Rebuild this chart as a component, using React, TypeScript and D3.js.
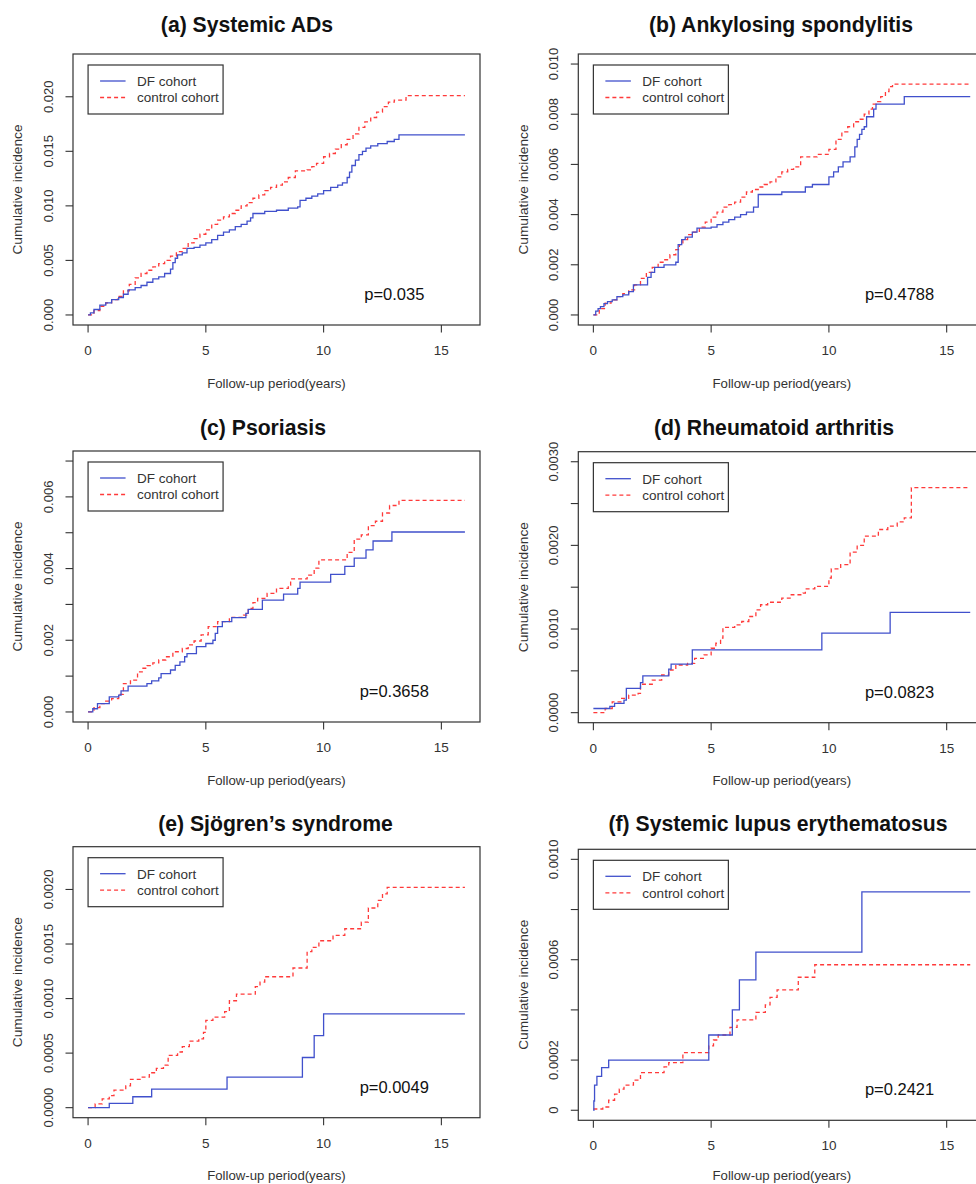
import React from "react";
import * as d3 from "d3";

// ---------- data (years, cumulative incidence) ----------
const aDFTime = [0, 0.1, 0.25, 0.5, 0.75, 1.0, 1.3, 1.5, 1.7, 2.0, 2.25, 2.5, 2.75, 3.0, 3.25, 3.5, 3.6, 3.7, 3.8, 4.0, 4.2, 4.5, 4.75, 5.0, 5.25, 5.5, 5.75, 6.0, 6.25, 6.5, 6.75, 6.9, 7.0, 7.5, 8.0, 8.5, 8.9, 9.0, 9.25, 9.5, 9.75, 10.0, 10.3, 10.6, 10.8, 11.0, 11.1, 11.2, 11.35, 11.5, 11.65, 11.8, 12.0, 12.3, 12.7, 13.0, 13.2, 16];
const aDFCI = [0, 0.0002, 0.0005, 0.0009, 0.0011, 0.0014, 0.0016, 0.0019, 0.0023, 0.0025, 0.0027, 0.003, 0.0033, 0.0035, 0.0038, 0.0042, 0.0048, 0.0052, 0.0055, 0.0057, 0.0061, 0.0062, 0.0064, 0.0066, 0.0069, 0.0073, 0.0076, 0.0078, 0.0081, 0.0083, 0.0086, 0.0089, 0.0093, 0.0095, 0.0096, 0.0098, 0.0099, 0.0105, 0.0107, 0.0109, 0.0111, 0.0114, 0.0117, 0.0119, 0.0121, 0.0126, 0.0131, 0.0137, 0.0142, 0.0147, 0.015, 0.0153, 0.0155, 0.0157, 0.0159, 0.0161, 0.0165, 0.0165];
const aCtrlTime = [0, 0.25, 0.5, 0.75, 1.0, 1.25, 1.5, 1.75, 2.0, 2.25, 2.5, 2.75, 3.0, 3.25, 3.5, 3.75, 4.0, 4.25, 4.5, 4.75, 5.0, 5.25, 5.5, 5.75, 6.0, 6.25, 6.5, 6.75, 7.0, 7.25, 7.5, 7.75, 8.0, 8.25, 8.5, 8.8, 9.3, 9.5, 9.7, 10.0, 10.25, 10.5, 10.75, 11.0, 11.25, 11.5, 11.75, 12.0, 12.25, 12.5, 12.75, 13.0, 13.5, 16];
const aCtrlCI = [0, 0.0004, 0.0008, 0.0011, 0.0014, 0.0017, 0.0022, 0.0028, 0.0034, 0.0038, 0.0041, 0.0044, 0.0047, 0.005, 0.0054, 0.0058, 0.0061, 0.0066, 0.007, 0.0074, 0.0078, 0.0083, 0.0087, 0.009, 0.0093, 0.0096, 0.01, 0.0103, 0.0107, 0.011, 0.0114, 0.0117, 0.0119, 0.0122, 0.0126, 0.0132, 0.0133, 0.0136, 0.0139, 0.0145, 0.0148, 0.0152, 0.0156, 0.0161, 0.0166, 0.0172, 0.0177, 0.0181, 0.0186, 0.0191, 0.0195, 0.0197, 0.0201, 0.0201];

const bDFTime = [0, 0.1, 0.2, 0.3, 0.45, 0.6, 0.8, 1.0, 1.25, 1.5, 1.7, 2.3, 2.45, 2.6, 3.0, 3.5, 3.6, 3.75, 3.9, 4.2, 4.4, 5.0, 5.25, 5.5, 5.75, 6.0, 6.25, 6.5, 6.8, 7.0, 8.0, 9.0, 9.3, 10.0, 10.2, 10.4, 10.6, 10.9, 11.1, 11.2, 11.3, 11.4, 11.5, 11.6, 11.9, 12.0, 13.2, 16];
const bDFCI = [0, 0.00015, 0.00025, 0.00033, 0.00045, 0.00053, 0.0006, 0.00073, 0.0008, 0.00093, 0.0012, 0.0015, 0.0017, 0.0019, 0.002, 0.0021, 0.0028, 0.003, 0.0031, 0.0033, 0.00346, 0.0035, 0.0036, 0.0037, 0.0038, 0.0039, 0.004, 0.0041, 0.0043, 0.0048, 0.0049, 0.0051, 0.0052, 0.0055, 0.0057, 0.0059, 0.0061, 0.0063, 0.0067, 0.007, 0.0072, 0.0074, 0.0075, 0.0079, 0.0082, 0.0084, 0.0087, 0.0087];
const bCtrlTime = [0, 0.25, 0.5, 0.75, 1.0, 1.25, 1.5, 1.75, 2.0, 2.25, 2.5, 2.75, 3.0, 3.25, 3.5, 3.65, 3.8, 4.0, 4.2, 4.5, 4.75, 5.0, 5.25, 5.5, 5.75, 6.0, 6.25, 6.5, 6.75, 7.0, 7.25, 7.5, 7.75, 8.0, 8.25, 8.5, 8.8, 9.5, 10.0, 10.3, 10.55, 10.8, 11.05, 11.3, 11.5, 11.7, 11.85, 12.0, 12.2, 12.4, 12.55, 12.7, 16];
const bCtrlCI = [0, 0.00025, 0.00047, 0.0006, 0.00073, 0.00085, 0.001, 0.0012, 0.00146, 0.0017, 0.0019, 0.0021, 0.0022, 0.0024, 0.0026, 0.0028, 0.003, 0.0032, 0.0033, 0.0035, 0.0037, 0.0039, 0.0041, 0.0043, 0.0044, 0.0045, 0.0047, 0.0049, 0.005, 0.0051, 0.0052, 0.0053, 0.0055, 0.0057, 0.0058, 0.0059, 0.0063, 0.0064, 0.0066, 0.007, 0.0073, 0.0075, 0.0077, 0.0078, 0.008, 0.0082, 0.0084, 0.0085, 0.0087, 0.0089, 0.0091, 0.0092, 0.0092];

const cDFTime = [0, 0.2, 0.4, 0.9, 1.3, 1.4, 1.7, 2.5, 2.7, 3.0, 3.1, 3.5, 3.7, 3.9, 4.1, 4.2, 4.6, 5.0, 5.3, 5.4, 5.5, 5.7, 6.1, 6.7, 6.8, 7.4, 8.3, 8.9, 9.0, 10.3, 10.9, 11.3, 11.8, 12.1, 12.9, 16];
const cDFCI = [0, 0.00009, 0.00023, 0.00042, 0.00047, 0.00059, 0.00072, 0.00079, 0.00087, 0.00095, 0.00107, 0.00117, 0.0013, 0.0014, 0.00154, 0.00163, 0.00182, 0.00191, 0.002, 0.00219, 0.00238, 0.00252, 0.00263, 0.00275, 0.00286, 0.00312, 0.00329, 0.00345, 0.00362, 0.00384, 0.00406, 0.00429, 0.00452, 0.00477, 0.00502, 0.00502];
const cCtrlTime = [0, 0.25, 0.5, 0.75, 1.0, 1.3, 1.5, 1.8, 2.1, 2.3, 2.5, 2.75, 3.0, 3.3, 3.6, 4.0, 4.25, 4.5, 4.8, 5.1, 5.5, 6.0, 6.6, 6.8, 7.0, 7.2, 7.6, 8.0, 8.5, 8.6, 9.3, 9.6, 9.8, 11.0, 11.3, 11.6, 11.9, 12.2, 12.5, 12.8, 13.2, 16];
const cCtrlCI = [0, 0.00012, 0.00023, 0.0003, 0.00037, 0.00049, 0.00079, 0.00089, 0.00112, 0.00122, 0.00129, 0.00137, 0.00145, 0.00154, 0.00168, 0.00177, 0.00187, 0.00198, 0.00215, 0.00238, 0.00252, 0.00264, 0.0027, 0.00289, 0.00305, 0.00317, 0.00331, 0.00345, 0.00354, 0.00371, 0.00382, 0.00401, 0.00424, 0.00445, 0.00482, 0.00494, 0.0052, 0.00532, 0.00555, 0.00576, 0.0059, 0.0059];

const dDFTime = [0, 0.7, 0.9, 1.3, 1.4, 2.0, 2.1, 3.2, 3.3, 4.2, 9.7, 12.6, 16];
const dDFCI = [0.00005, 0.000076, 0.00011, 0.00015, 0.00029, 0.00036, 0.00044, 0.00052, 0.00058, 0.00075, 0.00095, 0.0012, 0.0012];
const dCtrlTime = [0, 0.5, 0.8, 1.2, 1.5, 1.9, 2.0, 2.5, 2.9, 3.2, 3.5, 4.0, 4.3, 4.7, 5.0, 5.2, 5.4, 5.5, 6.0, 6.3, 6.6, 6.9, 7.1, 7.4, 8.0, 8.4, 8.9, 9.0, 9.4, 10.0, 10.1, 10.5, 10.9, 11.2, 11.5, 12.1, 12.5, 12.9, 13.2, 13.5, 16];
const dCtrlCI = [0, 0.00005, 0.00013, 0.00017, 0.00021, 0.00023, 0.00034, 0.00039, 0.00045, 0.00051, 0.00057, 0.00059, 0.00065, 0.00069, 0.00077, 0.00083, 0.00089, 0.00102, 0.00105, 0.00109, 0.00115, 0.00123, 0.00129, 0.00132, 0.00137, 0.00141, 0.00143, 0.00148, 0.00151, 0.00161, 0.00172, 0.00177, 0.00192, 0.002, 0.00211, 0.00219, 0.00223, 0.00228, 0.00233, 0.00269, 0.00269];

const eDFTime = [0, 0.9, 1.9, 2.7, 5.9, 9.1, 9.6, 10.0, 16];
const eDFCI = [0, 0.00004, 0.0001, 0.00017, 0.00028, 0.00046, 0.00066, 0.00086, 0.00086];
const eCtrlTime = [0, 0.3, 0.6, 0.9, 1.1, 1.6, 1.8, 2.3, 2.6, 2.9, 3.2, 3.4, 3.8, 4.0, 4.3, 4.7, 4.9, 5.0, 5.3, 5.8, 6.0, 6.3, 7.1, 7.3, 7.5, 8.7, 9.3, 9.5, 9.8, 10.4, 10.9, 11.6, 11.9, 12.3, 12.5, 12.7, 16];
const eCtrlCI = [0, 0.000034, 0.00008, 0.00011, 0.00016, 0.0002, 0.00026, 0.00028, 0.00032, 0.00036, 0.00039, 0.00048, 0.00051, 0.00056, 0.00061, 0.00063, 0.00069, 0.0008, 0.00083, 0.00088, 0.00098, 0.00104, 0.00111, 0.00115, 0.0012, 0.00128, 0.00143, 0.00147, 0.00153, 0.00158, 0.00164, 0.0017, 0.00183, 0.0019, 0.00196, 0.00202, 0.00202];

const fDFTime = [0, 0.02, 0.05, 0.15, 0.35, 0.65, 4.9, 5.9, 6.2, 6.9, 11.4, 16];
const fDFCI = [0, 0.000037, 0.0001, 0.000135, 0.00017, 0.0002, 0.0003, 0.0004, 0.00052, 0.00063, 0.00087, 0.00087];
const fCtrlTime = [0, 0.4, 0.65, 0.9, 1.1, 1.3, 1.7, 2.0, 3.0, 3.2, 3.8, 4.9, 5.1, 5.3, 5.8, 6.1, 6.9, 7.3, 7.5, 7.8, 8.7, 9.4, 16];
const fCtrlCI = [0.000005, 0.000013, 0.00004, 0.000064, 0.000084, 0.0001, 0.00012, 0.00015, 0.000173, 0.00019, 0.00023, 0.000257, 0.00028, 0.0003, 0.00033, 0.00036, 0.00039, 0.00042, 0.00045, 0.00048, 0.00053, 0.00058, 0.00058];

// ---------- titles, axis ticks, p-values ----------
const panelTitles = ["(a) Systemic ADs", "(b) Ankylosing spondylitis", "(c) Psoriasis", "(d) Rheumatoid arthritis", "(e) Sjögren’s syndrome", "(f) Systemic lupus erythematosus"];
const pValues = ["p=0.035", "p=0.4788", "p=0.3658", "p=0.0823", "p=0.0049", "p=0.2421"];
const yMax = [0.023, 0.010, 0.007, 0.003, 0.0023, 0.001];
const aYTicks = [0, 0.005, 0.01, 0.015, 0.02];
const aYLabels = ["0.000", "0.005", "0.010", "0.015", "0.020"];
const bYTicks = [0, 0.002, 0.004, 0.006, 0.008, 0.01];
const bYLabels = ["0.000", "0.002", "0.004", "0.006", "0.008", "0.010"];
const cYTicks = [0, 0.001, 0.002, 0.003, 0.004, 0.005, 0.006, 0.007];
const cYLabels = ["0.000", "", "0.002", "", "0.004", "", "0.006", ""];
const dYTicks = [0, 0.0005, 0.001, 0.0015, 0.002, 0.0025, 0.003];
const dYLabels = ["0.0000", "", "0.0010", "", "0.0020", "", "0.0030"];
const eYTicks = [0, 0.0005, 0.001, 0.0015, 0.002];
const eYLabels = ["0.0000", "0.0005", "0.0010", "0.0015", "0.0020"];
const fYTicks = [0, 0.0002, 0.0004, 0.0006, 0.0008, 0.001];
const fYLabels = ["0", "0.0002", "", "0.0006", "", "0.0010"];
const xTicks = [0, 5, 10, 15];
const xTickLabels = ["0", "5", "10", "15"];
const seriesNames = ["DF cohort", "control cohort"];
const xLabel = "Follow-up period(years)";
const yLabel = "Cumulative incidence";

const panelsData = [
  { df: [aDFTime, aDFCI], ctrl: [aCtrlTime, aCtrlCI], yt: aYTicks, yl: aYLabels },
  { df: [bDFTime, bDFCI], ctrl: [bCtrlTime, bCtrlCI], yt: bYTicks, yl: bYLabels },
  { df: [cDFTime, cDFCI], ctrl: [cCtrlTime, cCtrlCI], yt: cYTicks, yl: cYLabels },
  { df: [dDFTime, dDFCI], ctrl: [dCtrlTime, dCtrlCI], yt: dYTicks, yl: dYLabels },
  { df: [eDFTime, eDFCI], ctrl: [eCtrlTime, eCtrlCI], yt: eYTicks, yl: eYLabels },
  { df: [fDFTime, fDFCI], ctrl: [fCtrlTime, fCtrlCI], yt: fYTicks, yl: fYLabels },
];

// ---------- layout ----------
const BOX_LEFT = [73, 578.3];
const BOX_W = 407;
const BOX_H = 271;
const BOX_TOP = [54, 54, 451, 451.7, 846.7, 849.3];
const TITLE_X = [247, 781, 263, 774, 275.5, 778];
const TITLE_Y = [24, 24, 427.5, 427, 823, 823];
const FONT = "'Liberation Sans', Arial, Helvetica, sans-serif";
const BLUE = "#4050cc";
const RED = "#ff3a3a";
const AX = "#333";

function Panel({ i }: { i: number }) {
  const col = i % 2;
  const left = BOX_LEFT[col];
  const top = BOX_TOP[i];
  const bottom = top + BOX_H;
  const right = left + BOX_W;
  const ym = yMax[i];
  const x = d3.scaleLinear().domain([-0.64, 16.64]).range([left, right]);
  const y = d3.scaleLinear().domain([-0.04 * ym, 1.04 * ym]).range([bottom, top]);
  const pd = panelsData[i];
  const line = d3
    .line<[number, number]>()
    .x((d) => x(d[0]))
    .y((d) => y(d[1]))
    .curve(d3.curveStepAfter);
  const toPts = (s: number[][]) => s[0].map((t, k) => [t, s[1][k]] as [number, number]);
  const lgX = x(0);
  const lgY = top + 11;
  const yTitleX = left - 55.7;
  const xTitleY = Math.min(bottom + 58, 1175);
  return (
    <g>
      <text x={TITLE_X[i]} y={TITLE_Y[i]} dy="0.36em" textAnchor="middle" fontFamily={FONT} fontWeight="bold" fontSize={21.2} fill="#111">
        {panelTitles[i]}
      </text>
      <rect x={left} y={top} width={BOX_W} height={BOX_H} fill="none" stroke={AX} strokeWidth={1.2} />
      {pd.yt.map((v, k) => (
        <g key={"y" + k}>
          <line x1={left - 7.5} x2={left} y1={y(v)} y2={y(v)} stroke={AX} strokeWidth={1.1} />
          {pd.yl[k] !== "" && (
            <text transform={`translate(${left - 24.5},${y(v)}) rotate(-90)`} dy="0.36em" textAnchor="middle" fontFamily={FONT} fontSize={13} fill="#333">
              {pd.yl[k]}
            </text>
          )}
        </g>
      ))}
      {xTicks.map((v, k) => (
        <g key={"x" + k}>
          <line x1={x(v)} x2={x(v)} y1={bottom} y2={bottom + 7.5} stroke={AX} strokeWidth={1.1} />
          <text x={x(v)} y={bottom + 25} dy="0.36em" textAnchor="middle" fontFamily={FONT} fontSize={13.5} fill="#333">
            {xTickLabels[k]}
          </text>
        </g>
      ))}
      <text x={(left + right) / 2} y={xTitleY} dy="0.36em" textAnchor="middle" fontFamily={FONT} fontSize={13.2} fill="#333">
        {xLabel}
      </text>
      <text transform={`translate(${yTitleX},${(top + bottom) / 2}) rotate(-90)`} dy="0.36em" textAnchor="middle" fontFamily={FONT} fontSize={13.7} fill="#333">
        {yLabel}
      </text>
      <path d={line(toPts(pd.ctrl)) || ""} fill="none" stroke={RED} strokeWidth={1.3} strokeDasharray="4,3" />
      <path d={line(toPts(pd.df)) || ""} fill="none" stroke={BLUE} strokeWidth={1.3} />
      <rect x={lgX} y={lgY} width={135} height={49} fill="#fff" stroke={AX} strokeWidth={1.2} />
      <line x1={lgX + 12} x2={lgX + 37.5} y1={lgY + 16} y2={lgY + 16} stroke={BLUE} strokeWidth={1.3} />
      <line x1={lgX + 12} x2={lgX + 37.5} y1={lgY + 32.5} y2={lgY + 32.5} stroke={RED} strokeWidth={1.3} strokeDasharray="4,3" />
      <text x={lgX + 49} y={lgY + 16} dy="0.36em" fontFamily={FONT} fontSize={13.5} fill="#333">
        {seriesNames[0]}
      </text>
      <text x={lgX + 49} y={lgY + 32.5} dy="0.36em" fontFamily={FONT} fontSize={13.5} fill="#333">
        {seriesNames[1]}
      </text>
      <text x={x(13)} y={bottom - 31} dy="0.36em" textAnchor="middle" fontFamily={FONT} fontSize={16.5} fill="#111">
        {pValues[i]}
      </text>
    </g>
  );
}

export default function App() {
  return (
    <svg width={976} height={1184} style={{ position: "absolute", left: 0, top: 0, display: "block", background: "#fff" }}>
      <rect x={0} y={0} width={976} height={1184} fill="#fff" />
      {[0, 1, 2, 3, 4, 5].map((i) => (
        <Panel key={i} i={i} />
      ))}
    </svg>
  );
}
